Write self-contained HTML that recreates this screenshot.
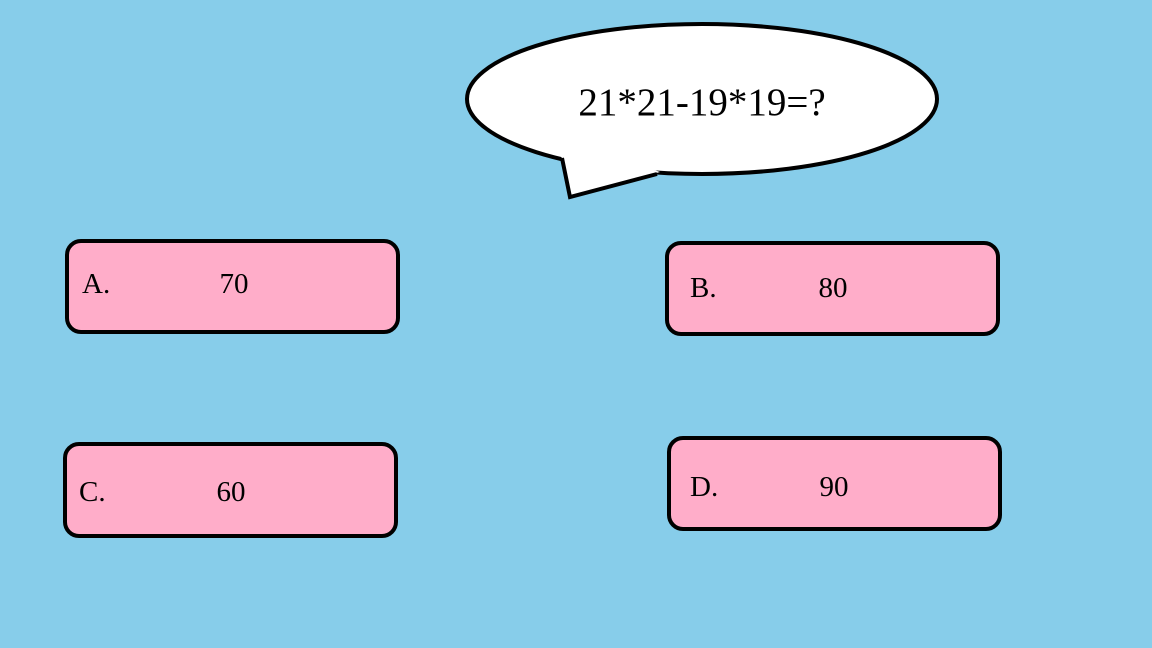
<!DOCTYPE html>
<html><head><meta charset="utf-8"><style>
html,body{margin:0;padding:0;width:1152px;height:648px;overflow:hidden;background:#87CDEA}
svg{display:block}
text{font-family:"Liberation Serif",serif;fill:#000}
</style></head><body>
<svg width="1152" height="648" viewBox="0 0 1152 648">
<rect width="1152" height="648" fill="#87CDEA"/>
<g>
<ellipse cx="702" cy="99" rx="235" ry="75" fill="#fff" stroke="#000" stroke-width="4"/>
<polygon points="560,150 570,197 660,172 640,165" fill="#fff"/>
<polyline points="562,158 570,197 657,174" fill="none" stroke="#000" stroke-width="4" stroke-linejoin="miter"/>
<text x="702" y="115" font-size="39" text-anchor="middle">21*21-19*19=?</text>
</g>
<g>
<rect x="67" y="241" width="331" height="91" rx="14" fill="#FFADC9" stroke="#000" stroke-width="4"/>
<text x="82" y="293" font-size="29">A.</text>
<text x="234" y="293" font-size="29" text-anchor="middle">70</text>
</g>
<g>
<rect x="667" y="243" width="331" height="91" rx="14" fill="#FFADC9" stroke="#000" stroke-width="4"/>
<text x="690" y="297" font-size="29">B.</text>
<text x="833" y="297" font-size="29" text-anchor="middle">80</text>
</g>
<g>
<rect x="65" y="444" width="331" height="92" rx="14" fill="#FFADC9" stroke="#000" stroke-width="4"/>
<text x="79" y="501" font-size="29">C.</text>
<text x="231" y="501" font-size="29" text-anchor="middle">60</text>
</g>
<g>
<rect x="669" y="438" width="331" height="91" rx="14" fill="#FFADC9" stroke="#000" stroke-width="4"/>
<text x="690" y="496" font-size="29">D.</text>
<text x="834" y="496" font-size="29" text-anchor="middle">90</text>
</g>
</svg>
</body></html>
